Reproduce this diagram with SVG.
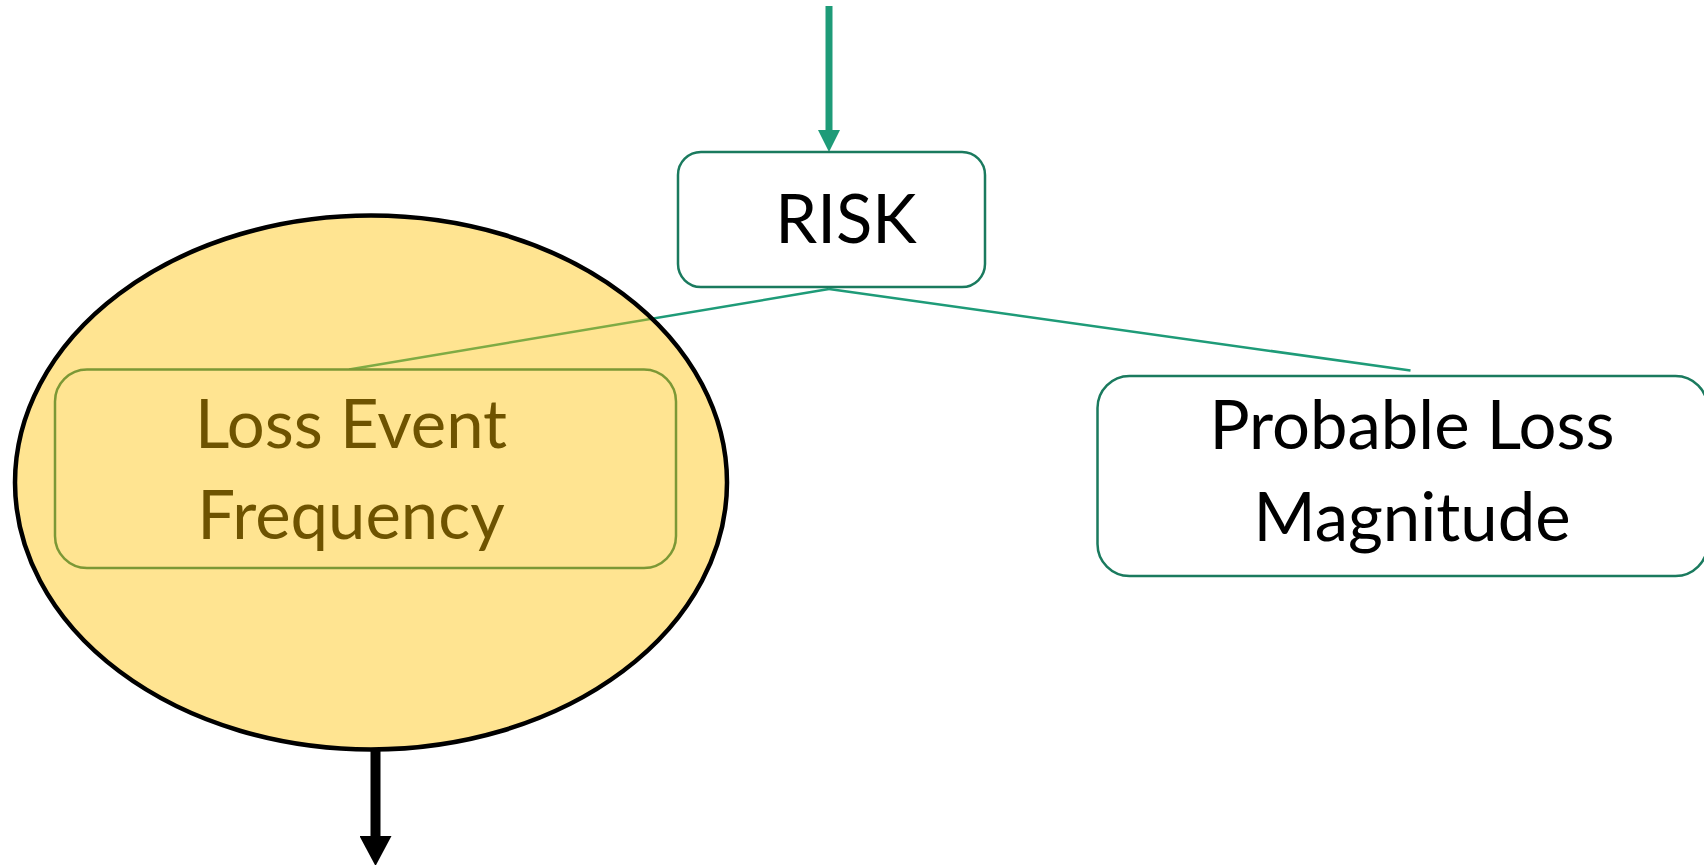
<svg xmlns="http://www.w3.org/2000/svg" width="1704" height="865" viewBox="0 0 1704 865">
  <style>
    .box { fill: #ffffff; stroke: #1a7a5e; stroke-width: 2.5; }
    .lbl { font-family: Lato, "Open Sans", "Liberation Sans", sans-serif; font-size: 67px; fill: #000000; text-anchor: middle; }
    .conn { stroke: #1e9b78; stroke-width: 2.5; fill: none; }
  </style>
  <defs>
    <marker id="tealHead" markerUnits="userSpaceOnUse" markerWidth="22" markerHeight="22" refX="0" refY="11" orient="auto" viewBox="0 0 22 22">
      <path d="M0,0 L22,11 L0,22 z" fill="#1e9b78"/>
    </marker>
    <marker id="blackHead" markerUnits="userSpaceOnUse" markerWidth="30" markerHeight="32" refX="0" refY="16" orient="auto" viewBox="0 0 30 32">
      <path d="M0,0 L30,16 L0,32 z" fill="#000000"/>
    </marker>
  </defs>
  <rect width="1704" height="865" fill="#ffffff"/>
  <g id="connectors">
    <line x1="829" y1="6" x2="829" y2="130" stroke="#1e9b78" stroke-width="7" marker-end="url(#tealHead)"/>
    <line class="conn" x1="829" y1="289" x2="349" y2="369.5"/>
    <line class="conn" x1="829" y1="289" x2="1410.5" y2="370.6"/>
  </g>
  <g id="risk">
    <rect class="box" x="678" y="152" width="307" height="135" rx="23" ry="23"/>
    <text class="lbl" x="846" y="243" font-size="65">RISK</text>
  </g>
  <g id="loss-event-frequency">
    <rect class="box" x="55" y="369.5" width="621" height="198.5" rx="32" ry="32"/>
    <text class="lbl" x="351" y="448">Loss Event</text>
    <text class="lbl" x="351" y="539">Frequency</text>
  </g>
  <g id="probable-loss-magnitude">
    <rect class="box" x="1097.5" y="376" width="610" height="200" rx="32" ry="32"/>
    <text class="lbl" x="1412" y="449" font-size="68">Probable Loss</text>
    <text class="lbl" x="1412" y="541" font-size="68">Magnitude</text>
  </g>
  <g id="highlight">
    <ellipse cx="371" cy="482.5" rx="356" ry="267" fill="#FFC000" fill-opacity="0.43" stroke="#000000" stroke-width="4.5"/>
    <line x1="375.5" y1="751" x2="375.5" y2="836" stroke="#000000" stroke-width="10" marker-end="url(#blackHead)"/>
  </g>
</svg>
